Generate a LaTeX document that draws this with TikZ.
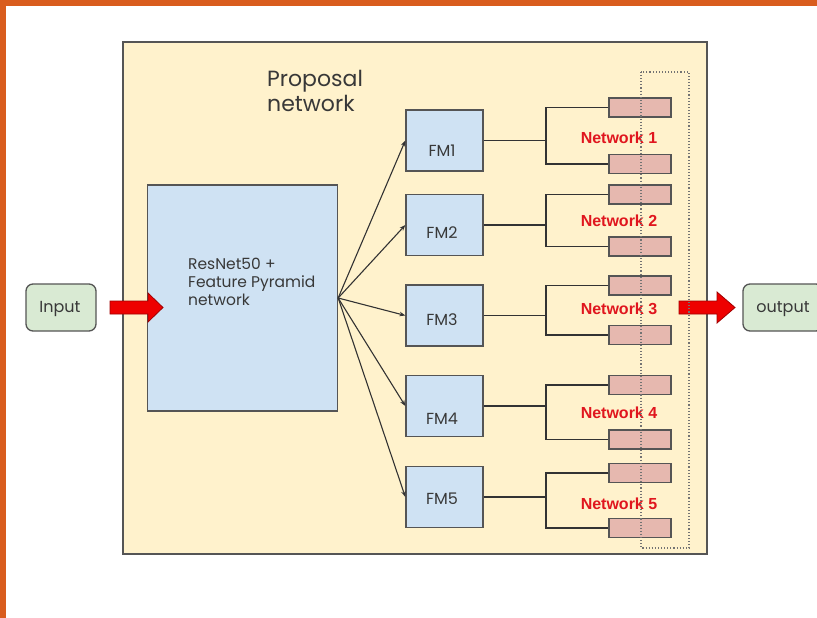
\documentclass[tikz,border=0pt]{standalone}
\usepackage{fontspec}
\setmainfont{Poppins}
\newfontfamily\netfont{Liberation Sans}
\usetikzlibrary{arrows.meta}
\definecolor{orangeband}{HTML}{D95D1E}
\definecolor{bigfill}{HTML}{FFF2CC}
\definecolor{bordergray}{HTML}{555555}
\definecolor{bluefill}{HTML}{CFE2F3}
\definecolor{pinkfill}{HTML}{E6B8AF}
\definecolor{greenfill}{HTML}{D9EAD3}
\definecolor{textgray}{HTML}{383838}
\definecolor{netred}{HTML}{E0161E}
\definecolor{arrowred}{HTML}{EE0000}
\definecolor{arrowdark}{HTML}{A00000}
\tikzset{
  box/.style={draw=bordergray, line width=1.3pt, inner sep=0pt},
  fmbox/.style={box, fill=bluefill, minimum width=77pt, minimum height=61pt},
  boxtext/.style={anchor=base, inner sep=0pt, text=textgray, font=\fontsize{16}{18}\selectfont},
  pinkbox/.style={box, fill=pinkfill, minimum width=62pt, minimum height=19pt},
  netlabel/.style={font=\netfont\bfseries\fontsize{16}{18}\selectfont, text=netred, inner sep=0pt},
  termbox/.style={box, fill=greenfill, rounded corners=7pt, minimum width=70pt, minimum height=47pt},
  wire/.style={draw=black!80, line width=1.1pt},
  fanarrow/.style={wire, -{Stealth[length=6pt,width=4.5pt]}},
  bigarrow/.style={fill=arrowred, draw=arrowdark, line width=0.8pt, line join=miter},
}
\begin{document}
\begin{tikzpicture}[x=1pt,y=-1pt]
\useasboundingbox (0,0) rectangle (817,618);
\clip (0,0) rectangle (817,618);
\fill[white] (0,0) rectangle (817,618);
\fill[orangeband] (0,0) rectangle (817,6);
\fill[orangeband] (0,0) rectangle (6,618);

% proposal network container
\node[box, line width=1.5pt, fill=bigfill, minimum width=584pt, minimum height=512pt] (prop) at (415,298) {};
\node[anchor=north west, inner sep=0pt, align=left, text=textgray,
  font=\fontsize{22}{25}\selectfont] (proptitle) at (267,70) {Proposal\\network};

% backbone
\node[box, fill=bluefill, minimum width=190pt, minimum height=226pt] (resnet) at (242.5,298) {};
\node[anchor=north west, inner sep=0pt, align=left, text=textgray,
  font=\fontsize{15.5}{18}\selectfont] (resnetlabel) at (188,258) {ResNet50 +\\Feature Pyramid\\network};

% terminals
\node[termbox] (input) at (61,307.5) {};
\node[boxtext] (inputtext) at (60,312.5) {Input};
\node[termbox, minimum width=80pt] (output) at (783,307.5) {};
\node[boxtext] (outputtext) at (783,312.5) {output};

% big red arrows
\path[bigarrow] (110,301) -- (148,301) -- (148,293) -- (163,307.5) -- (148,322) -- (148,314) -- (110,314) -- cycle;
\path[bigarrow] (679,301) -- (717,301) -- (717,292) -- (735,307.5) -- (717,323) -- (717,314) -- (679,314) -- cycle;

% feature maps
\foreach \i/\y/\yt in {1/140.5/156,2/225/238,3/315.5/325.5,4/406/424,5/497/504.5}{
  \node[fmbox] (fm\i) at (444.5,\y) {};
  \node[boxtext] (fmtext\i) at (442,\yt) {FM\i};
  \draw[fanarrow] (resnet.east) -- (fm\i.west);
  \coordinate (j\i) at (546,\y);
  \draw[wire] (fm\i.east) -- (j\i);
}

% heads
\foreach \i/\ya/\yb/\yl in {1/107.5/164/138, 2/194.5/246.5/221, 3/285.5/335/309, 4/385/439.5/413, 5/473/528/504}{
  \node[pinkbox] (pa\i) at (640,\ya) {};
  \node[pinkbox] (pb\i) at (640,\yb) {};
  \draw[wire] (pa\i.west) -| (j\i) |- (pb\i.west);
  \node[netlabel] (net\i) at (619,\yl) {Network \i};
}

% dotted selection
\draw[gray!90!black, line width=1.1pt, dotted] (641,72) rectangle (689,548);
\end{tikzpicture}
\end{document}
